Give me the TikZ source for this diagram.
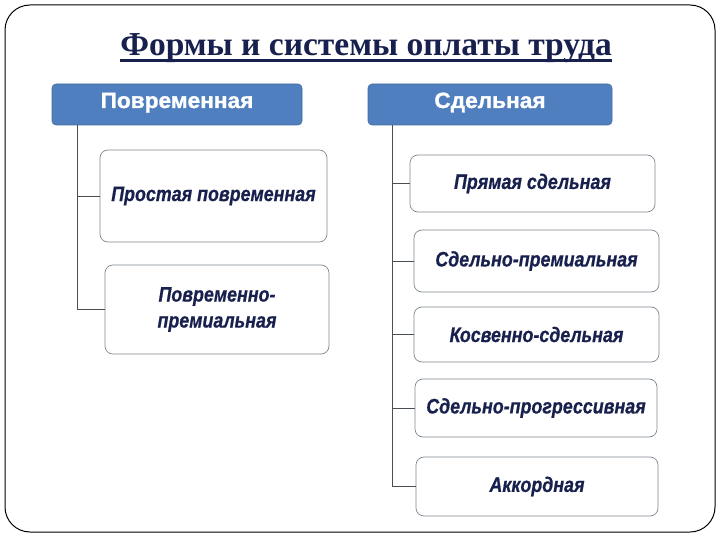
\documentclass[tikz,border=0pt]{standalone}
\usepackage{fontspec}
\setmainfont{Liberation Serif}
\newfontfamily\boxfont[FakeStretch=0.85,FakeBold=0.6]{Liberation Sans}
\newfontfamily\hdrfont[FakeStretch=1.03,FakeBold=1.2]{Liberation Sans}
\usetikzlibrary{positioning}
\definecolor{navy}{HTML}{18214D}
\definecolor{hdrblue}{HTML}{4F7FBE}
\definecolor{boxline}{HTML}{7F8890}
\definecolor{conn}{HTML}{4A4F55}
\tikzset{
  hdr/.style={draw=hdrblue!85!black, line width=0.6pt, fill=hdrblue, rounded corners=4pt,
    text=white, font=\hdrfont\bfseries\fontsize{22}{24}\selectfont, inner sep=0pt,
    text height=15pt, text depth=8pt},
  item/.style={draw=boxline, line width=0.7pt, fill=white, rounded corners=8pt,
    text=navy, align=center, font=\boxfont\bfseries\itshape\fontsize{21}{26}\selectfont, inner sep=0pt},
  conn/.style={draw=conn, line width=0.8pt},
  frame/.style={draw=black, line width=1pt, rounded corners=25pt}
}
\begin{document}
\begin{tikzpicture}[x=1pt,y=-1pt]
\useasboundingbox (0,0) rectangle (720,540);
\fill[white] (0,0) rectangle (720,540);
\draw[frame] (5,5) rectangle (715,532);
\node[text=navy, inner sep=0pt, anchor=base, font=\bfseries\fontsize{33.5}{36}\selectfont] (title) at (366,56)
  {Формы и системы оплаты труда};
\draw[navy, line width=2.5pt] ([yshift=-4.5pt]title.base west) -- ([yshift=-4.5pt]title.base east);
\node[hdr, minimum width=250pt, minimum height=41pt] (hl) at (177,104.5) {Повременная};
\node[hdr, minimum width=244pt, minimum height=41pt] (hr) at (490,104.5) {Сдельная};
% left items
\node[item, minimum width=227pt, minimum height=92pt] (l1) at (213.5,196) {Простая повременная};
\node[item, minimum width=224pt, minimum height=89pt] (l2) at (217,309.5) {Повременно-\\премиальная};
% right items
\node[item, minimum width=245pt, minimum height=57pt] (r1) at (532.5,183.5) {Прямая сдельная};
\node[item, minimum width=245pt, minimum height=62pt] (r2) at (536.5,261) {Сдельно-премиальная};
\node[item, minimum width=245pt, minimum height=55pt] (r3) at (536.5,334.5) {Косвенно-сдельная};
\node[item, minimum width=242pt, minimum height=58pt] (r4) at (536,408) {Сдельно-прогрессивная};
\node[item, minimum width=242pt, minimum height=59pt] (r5) at (537,486.5) {Аккордная};
% connectors
\draw[conn] ([xshift=26pt]hl.south west) |- (l1.west);
\draw[conn] ([xshift=26pt]hl.south west) |- (l2.west);
\foreach \n in {r1,r2,r3,r4,r5}
  \draw[conn] ([xshift=25pt]hr.south west) |- (\n.west);
\end{tikzpicture}
\end{document}
